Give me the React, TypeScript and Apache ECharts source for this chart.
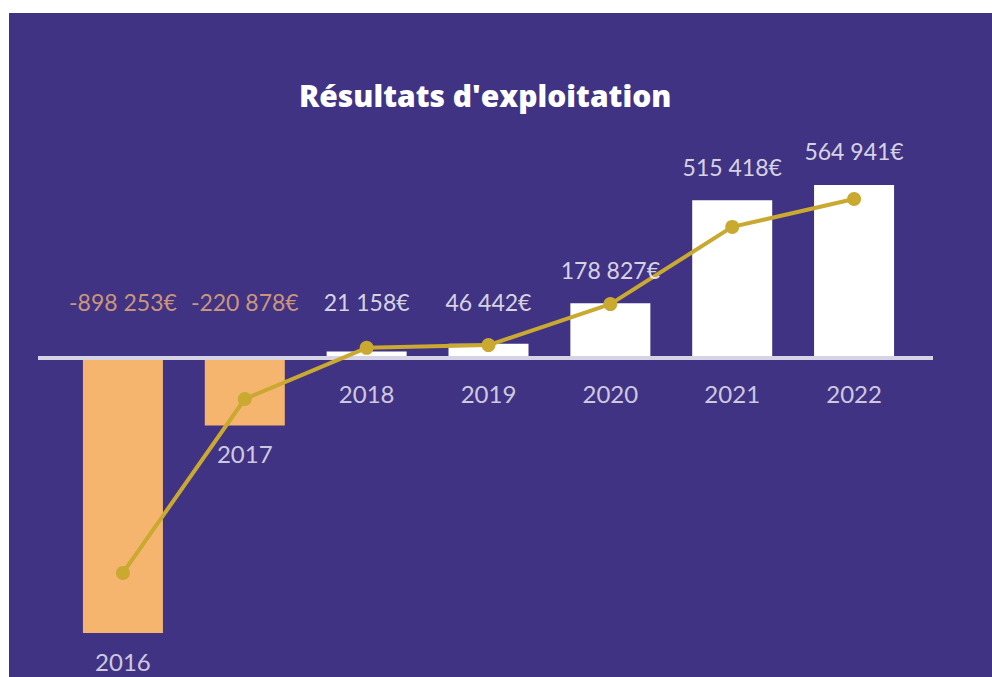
import React, { useEffect, useRef } from "react";
import * as echarts from "echarts";

const years = ["2016", "2017", "2018", "2019", "2020", "2021", "2022"];
const results = [-898253, -220878, 21158, 46442, 178827, 515418, 564941];
const trend = [-702000, -134000, 33000, 42000, 176000, 428000, 519000];

const LABEL_FLOOR = 72000;
const Y_MIN = -1000000;
const Y_MAX = 700000;

const fmt = (v: number) => {
  const s = Math.abs(v).toString().replace(/\B(?=(\d{3})+(?!\d))/g, " ");
  return (v < 0 ? "-" : "") + s + "€";
};

export default function App() {
  const ref = useRef<HTMLDivElement>(null);
  useEffect(() => {
    if (!ref.current) return;
    const chart = echarts.init(ref.current, null, { renderer: "svg" });
    const orange = "#f5b56f";
    const orangeText = "#f0b27a";
    const gold = "#c9a930";
    chart.setOption({
      animation: false,
      backgroundColor: "#ffffff",
      title: {
        text: "Résultats d'exploitation",
        left: 294,
        top: 75,
        textStyle: { color: "#ffffff", fontFamily: "Open Sans", fontWeight: 800, fontSize: 30 },
      },
      grid: { left: 62, right: 77, top: 143.6, bottom: 12.8 },
      xAxis: {
        type: "category",
        data: years,
        axisLine: { show: false },
        axisTick: { show: false },
        axisLabel: { show: false },
      },
      yAxis: {
        type: "value",
        min: Y_MIN,
        max: Y_MAX,
        show: false,
        splitLine: { show: false },
      },
      series: [
        {
          type: "bar",
          name: "Résultats",
          barWidth: 80,
          z: 2,
          data: results.map((v) => ({ value: v, itemStyle: { color: v < 0 ? orange : "#ffffff" } })),
        },
        {
          type: "line",
          name: "Tendance",
          z: 5,
          data: trend,
          symbol: "circle",
          symbolSize: 14,
          lineStyle: { color: gold, width: 4 },
          itemStyle: { color: gold },
        },
        {
          type: "scatter",
          name: "valeurs",
          z: 6,
          symbolSize: 0,
          data: results.map((v, i) => ({
            value: [i, Math.max(v, LABEL_FLOOR)],
            label: { color: v < 0 ? orangeText : "#ffffff" },
          })),
          label: {
            show: true,
            position: "top",
            distance: 22,
            fontFamily: "Lato",
            fontSize: 23,
            formatter: (p: any) => fmt(results[p.dataIndex]),
          },
        },
        {
          type: "scatter",
          name: "années",
          z: 6,
          symbolSize: 0,
          data: results.map((v, i) => ({
            value: [i, Math.min(v, 0)],
            label: { distance: v < 0 ? 16 : 24 },
          })),
          label: {
            show: true,
            position: "bottom",
            fontFamily: "Lato",
            fontSize: 24,
            color: "#f4f2fa",
            formatter: (p: any) => years[p.dataIndex],
          },
        },
      ],
    });
    const y0 = chart.convertToPixel({ yAxisIndex: 0 }, 0) as number;
    chart.setOption({
      graphic: [
        {
          type: "rect",
          z: -10,
          silent: true,
          shape: { x: 9, y: 13, width: 983, height: 664 },
          style: { fill: "#413383" },
        },
        {
          type: "line",
          z: 3,
          silent: true,
          shape: { x1: 38, y1: y0, x2: 933, y2: y0 },
          style: { stroke: "#d6d3e4", lineWidth: 4 },
        },
      ],
    });
    return () => chart.dispose();
  }, []);
  return (
    <div
      ref={ref}
      style={{ position: "absolute", left: 0, top: 0, width: 992, height: 677 }}
    />
  );
}
